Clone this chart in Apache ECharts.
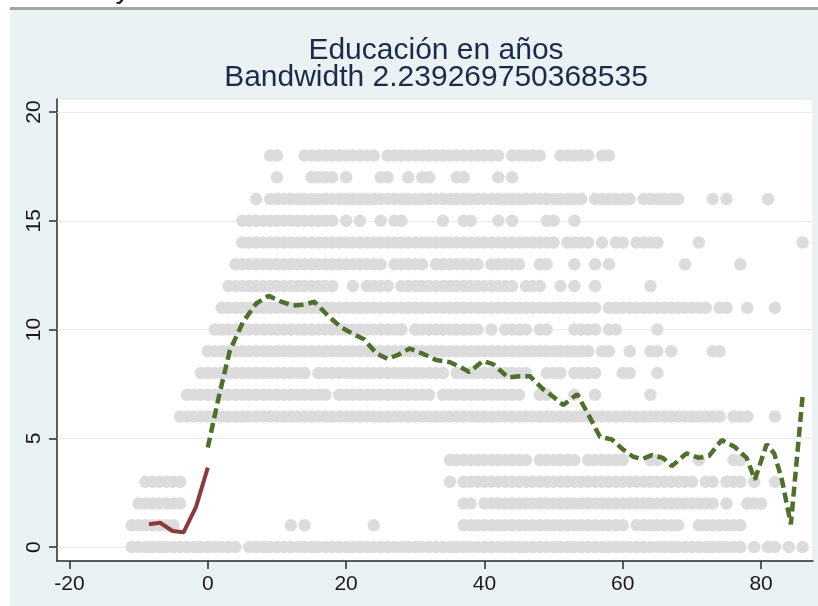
<!DOCTYPE html>
<html>
<head>
<meta charset="utf-8">
<script src="https://cdn.jsdelivr.net/npm/echarts@6/dist/echarts.min.js"></script>
<style>
  html, body { margin: 0; padding: 0; background: #fff; }
  #frame { position: absolute; left: 10px; top: 7px; width: 808px; height: 596px;
           background: #eaf2f3; border-top: 3px solid #a2a4a6; }
  #main { position: absolute; left: 0; top: 0; width: 818px; height: 606px; }
</style>
</head>
<body>
<div id="frame"></div>
<div id="main"></div>
<script>
// axis ticks
const xTicks = [-20, 0, 20, 40, 60, 80]
const yTicks = [0, 5, 10, 15, 20]

// observations: for each years-of-education level, runs [first, last] of consecutive integer x values seen
const eduRuns = [
  [18, [[9,10],[14,24],[26,42],[44,48],[51,55],[57,58]]],
  [17, [[10,10],[15,18],[20,20],[25,26],[29,29],[31,32],[36,37],[42,42],[44,44]]],
  [16, [[7,7],[9,54],[56,61],[63,68],[73,73],[75,75],[81,81]]],
  [15, [[5,18],[20,20],[22,22],[25,25],[27,28],[34,34],[37,38],[42,42],[44,44],[49,50],[53,53]]],
  [14, [[5,50],[52,55],[57,57],[59,60],[62,65],[71,71],[86,86]]],
  [13, [[4,25],[27,31],[33,39],[41,45],[48,49],[53,53],[56,56],[58,58],[69,69],[77,77]]],
  [12, [[3,18],[21,21],[23,26],[28,44],[46,48],[51,51],[53,53],[56,56],[64,64]]],
  [11, [[2,56],[58,72],[74,75],[78,78],[82,82]]],
  [10, [[1,28],[30,39],[41,41],[43,46],[48,49],[53,56],[58,59],[65,65]]],
  [9,  [[0,55],[57,58],[61,61],[64,65],[67,67],[73,74]]],
  [8,  [[-1,14],[16,34],[36,46],[49,51],[53,56],[60,61],[65,65]]],
  [7,  [[-3,17],[19,32],[34,45],[48,49],[53,53],[56,56],[64,64]]],
  [6,  [[-4,74],[76,78],[82,82]]],
  [4,  [[35,46],[48,53],[55,60],[64,65],[71,71],[76,77]]],
  [3,  [[-9,-4],[35,35],[37,70],[72,73],[75,77],[79,79],[82,82]]],
  [2,  [[-10,-4],[37,38],[40,73],[75,75],[78,80]]],
  [1,  [[-11,-5],[12,12],[14,14],[24,24],[37,60],[62,68],[71,77]]],
  [0,  [[-11,4],[6,77],[79,79],[81,82],[84,84],[86,86]]]
]

// local polynomial fit, left of cutoff
const leftFitX = [-8.5, -6.9, -5.1, -3.5, -1.7, 0]
const leftFitY = [1.05, 1.12, 0.74, 0.68, 1.85, 3.65]

// local polynomial fit, right of cutoff
const rightFitX = [0, 1.7, 3.2, 5.1, 7.0, 8.8, 10.5, 12.3, 14.0, 15.4, 17.5, 19.3, 21.0, 22.6, 24.4,
  26.0, 27.6, 29.2, 31.0, 33.0, 35.0, 36.4, 37.8, 39.8, 41.3, 43.4, 45.0, 46.6, 48.5, 50.0,
  51.4, 53.4, 55.0, 56.7, 58.4, 60.0, 61.5, 62.8, 64.2, 65.8, 67.1, 69.2, 71.0, 72.5, 74.3,
  76.2, 77.9, 79.1, 80.8, 81.9, 83.0, 84.3, 86.0]
const rightFitY = [4.58, 7.06, 9.05, 10.35, 11.2, 11.55, 11.3, 11.1, 11.15, 11.28, 10.6, 10.1, 9.8, 9.55, 8.9,
  8.65, 8.85, 9.13, 8.9, 8.6, 8.5, 8.3, 8.05, 8.56, 8.4, 7.8, 7.85, 7.85, 7.25, 6.9,
  6.53, 7.03, 6.1, 5.07, 4.95, 4.5, 4.15, 4.05, 4.23, 4.1, 3.72, 4.31, 4.1, 4.2, 4.92,
  4.6, 4.1, 3.1, 4.73, 4.3, 3.1, 1.05, 6.95]

const points = []
eduRuns.forEach(([edu, runs]) => {
  runs.forEach(([a, b]) => {
    for (let x = a; x <= b; x++) points.push([x, edu])
  })
})

const zip = (xs, ys) => xs.map((x, i) => [x, ys[i]])

var myChart = echarts.init(document.getElementById('main'), null, {renderer: 'canvas'})

var option = {
  animation: false,
  backgroundColor: 'transparent',
  textStyle: { fontFamily: 'Liberation Sans, Arial, sans-serif' },
  graphic: [
    {
      type: 'text', x: 436, y: 51,
      style: { text: 'Educación en años', fill: '#1c2b4a', font: '30px Liberation Sans',
               textAlign: 'center', textVerticalAlign: 'middle' }
    },
    {
      type: 'text', x: 436, y: 78,
      style: { text: 'Bandwidth 2.239269750368535', fill: '#1c2b4a', font: '30px Liberation Sans',
               textAlign: 'center', textVerticalAlign: 'middle' }
    },
    {
      type: 'text', x: 123, y: 5,
      style: { text: 'y', fill: '#222', font: '30px Liberation Sans',
               textAlign: 'center', textVerticalAlign: 'bottom' }
    }
  ],
  grid: {
    left: 57, right: 5, top: 99, bottom: 45,
    show: true, backgroundColor: '#fff', borderColor: '#e2eaee', borderWidth: 1
  },
  xAxis: {
    type: 'value', min: -21.8, max: 87.5,
    axisLine: { onZero: false, lineStyle: { color: '#2b2b2b', width: 1.5 } },
    axisTick: { customValues: xTicks, length: 8, lineStyle: { color: '#2b2b2b', width: 1.5 } },
    axisLabel: { customValues: xTicks, color: '#1a1a1a', fontSize: 21, margin: 13 },
    splitLine: { show: false }
  },
  yAxis: {
    type: 'value', min: -0.64, max: 20.6,
    axisLine: { show: true, onZero: false, lineStyle: { color: '#2b2b2b', width: 1.5 } },
    axisTick: { show: true, customValues: yTicks, length: 8, lineStyle: { color: '#2b2b2b', width: 1.5 } },
    axisLabel: { customValues: yTicks, color: '#1a1a1a', fontSize: 21, rotate: 90, margin: 12 },
    splitLine: { show: false }
  },
  series: [
    {
      type: 'scatter',
      data: points,
      symbolSize: 12.5,
      itemStyle: { color: '#dcdcdc', opacity: 1 },
      z: 2,
      markLine: {
        z: 1, silent: true, symbol: 'none', label: { show: false },
        lineStyle: { color: '#e8ecee', width: 1, type: 'solid' },
        data: yTicks.map(v => ({ yAxis: v }))
      }
    },
    {
      type: 'line',
      data: zip(leftFitX, leftFitY),
      showSymbol: false,
      lineStyle: { color: '#8b3a3c', width: 4 },
      z: 4
    },
    {
      type: 'line',
      data: zip(rightFitX, rightFitY),
      showSymbol: false,
      lineStyle: { color: '#4f6f2d', width: 4.5, type: [10, 5] },
      z: 4
    }
  ]
}

myChart.setOption(option)
</script>
</body>
</html>
